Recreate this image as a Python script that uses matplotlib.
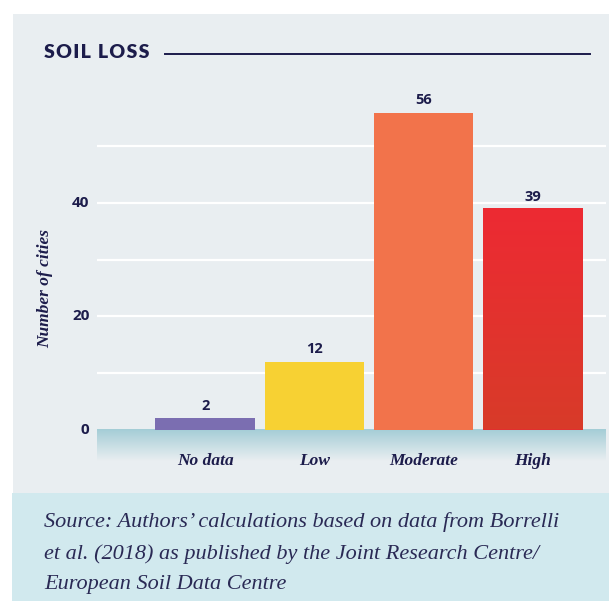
import matplotlib
matplotlib.use("Agg")
import matplotlib.pyplot as plt
import numpy as np
from matplotlib.patches import Rectangle
from matplotlib.colors import LinearSegmentedColormap

categories = ["No data", "Low", "Moderate", "High"]
values = [2, 12, 56, 39]
bar_colors = ["#7b6eb1", "#f7d133", "#f2734b", "#e02f2e"]
y_ticks = [0, 20, 40]
grid_vals = [10, 20, 30, 40, 50]
title = "SOIL LOSS"
ylabel = "Number of cities"
source = ("Source: Authors\u2019 calculations based on data from Borrelli\n"
          "et al. (2018) as published by the Joint Research Centre/\n"
          "European Soil Data Centre")

W, H = 609, 601
fig = plt.figure(figsize=(W / 100, H / 100), dpi=100)
fig.patch.set_facecolor("white")

navy = "#1c1c4b"
bg = "#e9eef1"

def fx(px):
    return px / W

def fy(py):
    return 1 - py / H

# background panels
fig.add_artist(Rectangle((fx(13), fy(493)), fx(609 - 13), (493 - 14) / H,
                         transform=fig.transFigure, facecolor=bg, edgecolor="none", zorder=0))
fig.add_artist(Rectangle((fx(12), 0), fx(609 - 12), (601 - 493) / H,
                         transform=fig.transFigure, facecolor="#d1e9ee", edgecolor="none", zorder=0))

# title and rule
spaced_title = "\u200a".join(title)
fig.text(fx(44), fy(53), spaced_title, fontsize=14, fontweight="heavy",
         family=["Lato", "DejaVu Sans"], color=navy, va="center", ha="left")
fig.add_artist(plt.Line2D([fx(165), fx(590)], [fy(54), fy(54)], transform=fig.transFigure,
                          color=navy, lw=1.4))

# axes
ymin, ymax = -5.5, 60
ax_left, ax_right = 97, 606
y0px = 429.5
ppu = 5.66
top_px = y0px - ymax * ppu
bot_px = y0px - ymin * ppu
ax = fig.add_axes([fx(ax_left), fy(bot_px), fx(ax_right - ax_left), (bot_px - top_px) / H])
ax.set_facecolor("none")
xmin, xmax = -0.99, 3.67
ax.set_xlim(xmin, xmax)
ax.set_ylim(ymin, ymax)
for s in ax.spines.values():
    s.set_visible(False)
ax.set_xticks([])
ax.set_yticks([])

for g in grid_vals:
    ax.axhline(g, color="white", lw=1.6, zorder=1)

# base band gradient
band_cmap = LinearSegmentedColormap.from_list("band", ["#a4cdd6", bg])
grad = np.linspace(0, 1, 200).reshape(-1, 1)
ax.imshow(grad, cmap=band_cmap, extent=[xmin, xmax, ymin, 0], aspect="auto",
          origin="upper", zorder=2, interpolation="bilinear")

x = np.arange(len(categories))
bars = ax.bar(x, values, width=0.91, color=bar_colors, zorder=3)

# gradient on the High bar
hb = bars[3]
red_cmap = LinearSegmentedColormap.from_list("red", ["#ed2a33", "#d83b29"])
ax.imshow(np.linspace(0, 1, 200).reshape(-1, 1), cmap=red_cmap,
          extent=[hb.get_x(), hb.get_x() + hb.get_width(), 0, hb.get_height()],
          aspect="auto", origin="upper", zorder=4)
ax.set_xlim(xmin, xmax)
ax.set_ylim(ymin, ymax)

for b, v in zip(bars, values):
    ax.text(b.get_x() + b.get_width() / 2, v + 0.9, str(v), ha="center", va="bottom",
            fontsize=10.5, fontweight="bold", family="Open Sans", color=navy, zorder=5)

for xi, c in zip(x, categories):
    ax.text(xi, -5.6, c, ha="center", va="center", fontsize=12.5, style="italic",
            fontweight="bold", family="Liberation Serif", color=navy, zorder=5, clip_on=False)

for t in y_ticks:
    ax.text(-1.06, t, str(t), ha="right", va="center", fontsize=11, fontweight="bold",
            family="Open Sans", color=navy, transform=ax.transData, clip_on=False)

fig.text(fx(45), fy(288), ylabel, rotation=90, ha="center", va="center", fontsize=12.5,
         style="italic", fontweight="bold", family="Liberation Serif", color=navy)

fig.text(fx(44), fy(553), source, ha="left", va="center", fontsize=16, style="italic",
         family="Liberation Serif", color="#2a2a55", linespacing=1.78)

fig.savefig("out.png", dpi=100, facecolor=fig.get_facecolor())
